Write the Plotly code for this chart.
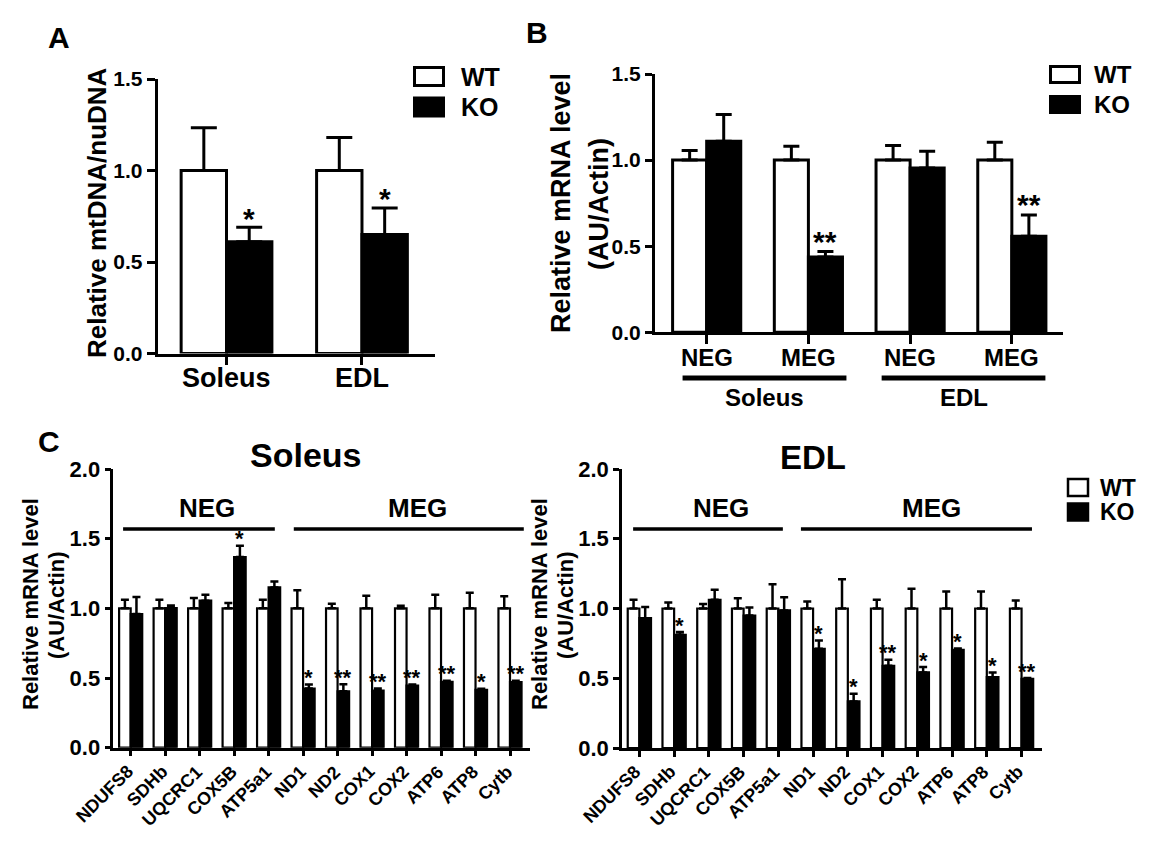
import plotly.graph_objects as go

W, H = 1154, 862
FONT = "Arial, 'Liberation Sans', Helvetica, sans-serif"

# ---------------- data ----------------
# Panel A : relative mtDNA/nuDNA
a_groups = ["Soleus", "EDL"]
a_wt_mean = [1.0, 1.0]
a_wt_sem = [0.233, 0.18]
a_ko_mean = [0.61, 0.65]
a_ko_sem = [0.08, 0.145]
a_sig = ["*", "*"]

# Panel B : relative mRNA level (gene groups)
b_genes = ["NEG", "MEG", "NEG", "MEG"]
b_tissues = ["Soleus", "EDL"]
b_wt_mean = [1.0, 1.0, 1.0, 1.0]
b_wt_sem = [0.056, 0.08, 0.085, 0.104]
b_ko_mean = [1.11, 0.438, 0.954, 0.558]
b_ko_sem = [0.155, 0.031, 0.098, 0.123]
b_sig = ["", "**", "", "**"]

# Panel C : individual genes
c_genes = ["NDUFS8", "SDHb", "UQCRC1", "COX5B", "ATP5a1", "ND1", "ND2",
           "COX1", "COX2", "ATP6", "ATP8", "Cytb"]
c_groups = ["NEG", "MEG"]

sol_wt_mean = [1.0] * 12
sol_wt_sem = [0.062, 0.062, 0.074, 0.038, 0.062, 0.129, 0.033, 0.091, 0.019, 0.098, 0.112, 0.086]
sol_ko_mean = [0.959, 1.002, 1.055, 1.368, 1.150, 0.425, 0.405, 0.41, 0.445, 0.472, 0.415, 0.47]
sol_ko_sem = [0.122, 0.019, 0.043, 0.081, 0.043, 0.028, 0.05, 0.015, 0.008, 0.008, 0.008, 0.01]
sol_sig = ["", "", "", "*", "", "*", "**", "**", "**", "**", "*", "**"]

edl_wt_mean = [1.0] * 12
edl_wt_sem = [0.062, 0.043, 0.033, 0.074, 0.174, 0.05, 0.21, 0.062, 0.141, 0.122, 0.122, 0.057]
edl_ko_mean = [0.931, 0.811, 1.062, 0.95, 0.986, 0.711, 0.334, 0.589, 0.542, 0.704, 0.508, 0.496]
edl_ko_sem = [0.079, 0.02, 0.072, 0.057, 0.095, 0.06, 0.055, 0.043, 0.038, 0.01, 0.034, 0.005]
edl_sig = ["", "*", "", "", "", "*", "*", "**", "*", "*", "*", "**"]

series_names = ["WT", "KO"]

# ---------------- helpers ----------------
BARGAP = 0.33
KO_OFF = (1 - BARGAP) / 4


def fx(px):
    return px / W


def fy(py):
    return 1 - py / H


def font(size, bold=True):
    return dict(family=FONT, size=size, color="black", weight="bold" if bold else "normal")


fig = go.Figure()


def add_pair(xa, ya, wt_m, wt_s, ko_m, ko_s, lw, ethick, ewidth):
    n = len(wt_m)
    xs = list(range(n))
    fig.add_trace(go.Bar(
        x=xs, y=wt_m, name=series_names[0], xaxis=xa, yaxis=ya, showlegend=False,
        marker=dict(color="white", line=dict(color="black", width=lw)),
        error_y=dict(type="data", symmetric=False, array=wt_s, arrayminus=[0] * n,
                     color="black", thickness=ethick, width=ewidth)))
    fig.add_trace(go.Bar(
        x=xs, y=ko_m, name=series_names[1], xaxis=xa, yaxis=ya, showlegend=False,
        marker=dict(color="black", line=dict(color="black", width=lw)),
        error_y=dict(type="data", symmetric=False, array=ko_s, arrayminus=[0] * n,
                     color="black", thickness=ethick, width=ewidth)))


add_pair("x", "y", a_wt_mean, a_wt_sem, a_ko_mean, a_ko_sem, 3, 3, 13)
add_pair("x2", "y2", b_wt_mean, b_wt_sem, b_ko_mean, b_ko_sem, 3, 3, 8)
add_pair("x3", "y3", sol_wt_mean, sol_wt_sem, sol_ko_mean, sol_ko_sem, 2.2, 2.5, 4)
add_pair("x4", "y4", edl_wt_mean, edl_wt_sem, edl_ko_mean, edl_ko_sem, 2.2, 2.5, 4)

annotations = []
shapes = []


def stars(xref, yref, ko_m, ko_s, sig, off, size):
    for i, s in enumerate(sig):
        if s:
            annotations.append(dict(
                x=i + KO_OFF, y=ko_m[i] + ko_s[i] + off, xref=xref, yref=yref,
                text=s, showarrow=False, font=font(size), xanchor="center", yanchor="middle"))


stars("x", "y", a_ko_mean, a_ko_sem, a_sig, 0.05, 30)
stars("x2", "y2", b_ko_mean, b_ko_sem, b_sig, 0.06, 30)
stars("x3", "y3", sol_ko_mean, sol_ko_sem, sol_sig, 0.05, 22)
stars("x4", "y4", edl_ko_mean, edl_ko_sem, edl_sig, 0.05, 22)


def yaxis_cfg(dom, rng, dtick, tsize, lw, tlen, anchor):
    return dict(domain=dom, range=rng, dtick=dtick, tick0=0, tickformat=".1f",
                showline=True, linewidth=lw, linecolor="black", ticks="outside",
                ticklen=tlen, tickwidth=lw, tickcolor="black", showgrid=False,
                zeroline=False, tickfont=font(tsize), anchor=anchor, fixedrange=True,
                automargin=False)


def xaxis_cfg(dom, rng, n, lw, tlen, anchor):
    return dict(domain=dom, range=rng, tickmode="array", tickvals=list(range(n)),
                showticklabels=False,
                showline=True, linewidth=lw, linecolor="black", ticks="outside",
                ticklen=tlen, tickwidth=lw, tickcolor="black", showgrid=False,
                zeroline=False, anchor=anchor, fixedrange=True, automargin=False)


layout = dict(
    width=W, height=H, margin=dict(l=0, r=0, t=0, b=0, pad=0), autosize=False,
    paper_bgcolor="white", plot_bgcolor="white",
    barmode="group", bargap=BARGAP, bargroupgap=0,
    font=font(16), showlegend=False,
)

# Panel A axes
layout["xaxis"] = xaxis_cfg([fx(157.7), fx(435)], [-0.508, 1.539], len(a_groups), 3, 8, "y")
layout["yaxis"] = yaxis_cfg([fy(353.5), fy(79)], [0, 1.5], 0.5, 21, 3, 8, "x")
# Panel B axes
layout["xaxis2"] = xaxis_cfg([fx(655), fx(1062.7)], [-0.508, 3.5], len(b_genes), 3, 9, "y2")
layout["yaxis2"] = yaxis_cfg([fy(332.3), fy(74)], [0, 1.5], 0.5, 21, 3, 7, "x2")
# Panel C axes
layout["xaxis3"] = xaxis_cfg([fx(113.3), fx(530)], [-0.504, 11.58], len(c_genes), 2.5, 6, "y3")
layout["yaxis3"] = yaxis_cfg([fy(747.7), fy(469)], [0, 2.0], 0.5, 22, 2.5, 6, "x3")
layout["xaxis4"] = xaxis_cfg([fx(622), fx(1041.7)], [-0.5, 11.58], len(c_genes), 2.5, 6, "y4")
layout["yaxis4"] = yaxis_cfg([fy(748), fy(469)], [0, 2.0], 0.5, 22, 2.5, 6, "x4")


def text(xp, yp, s, size, angle=0, xanchor="center"):
    annotations.append(dict(x=fx(xp), y=fy(yp), xref="paper", yref="paper", text=s,
                            showarrow=False, font=font(size), textangle=angle,
                            xanchor=xanchor, yanchor="middle"))


def cat_labels(xref, labels, ypix, size, dx=0.0, angle=0, xanchor="center", yanchor="middle"):
    for i, lab in enumerate(labels):
        annotations.append(dict(x=i + dx, y=fy(ypix), xref=xref, yref="paper", text=lab,
                                showarrow=False, font=font(size), textangle=angle,
                                xanchor=xanchor, yanchor=yanchor))


# category (tick) labels
cat_labels("x", a_groups, 378, 27)
cat_labels("x2", b_genes, 357, 24)
cat_labels("x3", c_genes, 759, 18, dx=0.27, angle=-45, xanchor="right", yanchor="top")
cat_labels("x4", c_genes, 759, 18, dx=0.24, angle=-45, xanchor="right", yanchor="top")

# panel letters
text(59, 37, "A", 30)
text(537, 32, "B", 30)
text(49, 441, "C", 30)

# y-axis titles
text(97, 213, "Relative mtDNA/nuDNA", 26, -90)
text(561, 203, "Relative mRNA level", 27, -90)
text(599, 204, "(AU/Actin)", 27, -90)
text(30, 604, "Relative mRNA level", 22, -90)
text(56, 605, "(AU/Actin)", 22, -90)
text(539, 604, "Relative mRNA level", 22, -90)
text(565, 605, "(AU/Actin)", 22, -90)

# panel C titles
text(305, 455, "Soleus", 34)
text(813, 457, "EDL", 33)


def legend(x0, x1, y_wt, y_ko, h, tx, size, lw):
    for (yc, fill, name) in [(y_wt, "white", series_names[0]), (y_ko, "black", series_names[1])]:
        shapes.append(dict(type="rect", xref="paper", yref="paper",
                           x0=fx(x0), x1=fx(x1), y0=fy(yc + h / 2), y1=fy(yc - h / 2),
                           line=dict(color="black", width=lw), fillcolor=fill))
        text(tx, yc, name, size, 0, "left")


legend(414.5, 443.5, 76.5, 107, 18, 459, 25, 3)
legend(1050.5, 1079.5, 74.5, 104.5, 16, 1092, 24, 3)
legend(1068, 1088, 487.5, 512, 17, 1098, 23, 2.5)

# Panel B tissue underlines + labels
for (x0, x1, name) in [(-0.237, 1.374, b_tissues[0]), (1.72, 3.33, b_tissues[1])]:
    shapes.append(dict(type="line", xref="x2", yref="paper", x0=x0, x1=x1,
                       y0=fy(378), y1=fy(378), line=dict(color="black", width=5)))
    annotations.append(dict(x=(x0 + x1) / 2, y=fy(397), xref="x2", yref="paper", text=name,
                            showarrow=False, font=font(24), xanchor="center", yanchor="middle"))

# Panel C group brackets + labels
for (xr, yr, segs) in [("x3", "y3", [(-0.22, 4.18, 2.21), (4.73, 11.4, 8.33)]),
                       ("x4", "y4", [(-0.18, 4.13, 2.35), (4.65, 11.3, 8.41)])]:
    for k, (x0, x1, xl) in enumerate(segs):
        shapes.append(dict(type="line", xref=xr, yref=yr, x0=x0, x1=x1, y0=1.57, y1=1.57,
                           line=dict(color="black", width=3.5)))
        annotations.append(dict(x=xl, y=1.72, xref=xr, yref=yr, text=c_groups[k],
                                showarrow=False, font=font(26), xanchor="center", yanchor="middle"))

layout["annotations"] = annotations
layout["shapes"] = shapes
fig.update_layout(**layout)

fig.write_html("out.html", config={"displayModeBar": False},
               post_script="document.body.style.margin='0';")
